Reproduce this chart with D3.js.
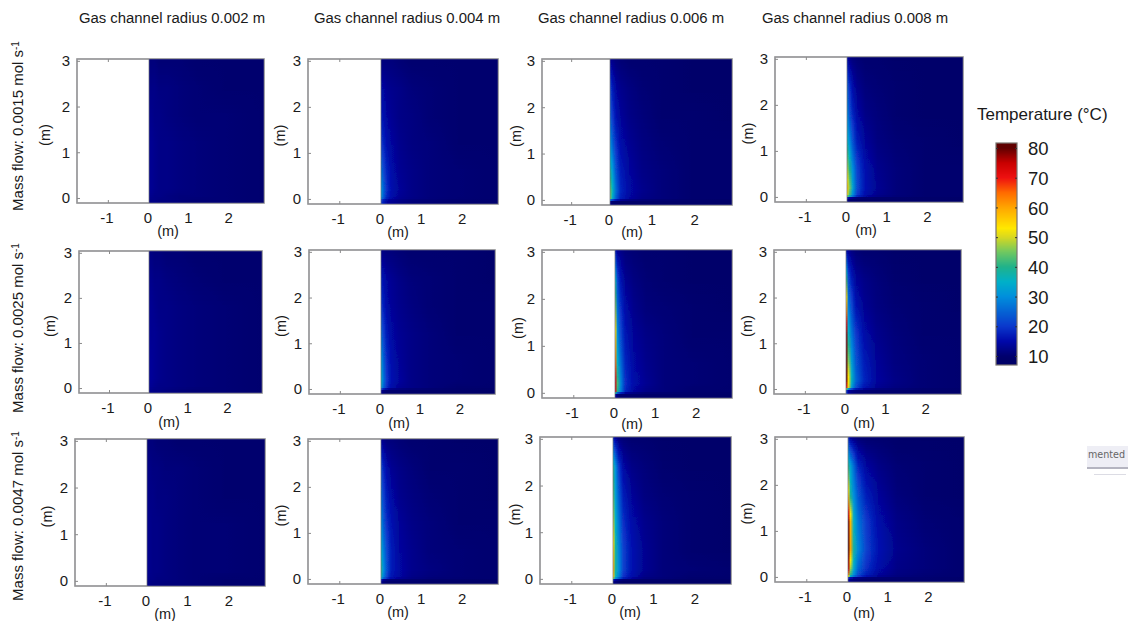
<!DOCTYPE html>
<html><head><meta charset="utf-8">
<script src="https://cdn.jsdelivr.net/npm/d3@7"></script>
<style>
html,body{margin:0;padding:0;background:#fff;}
svg{display:block;}
text{font-family:"Liberation Sans",Arial,sans-serif;fill:#1a1a1a;}
.tk text{font-size:15px;}
.tk line{stroke:#8a8a8a;}
</style></head><body>
<svg id="c" width="1128" height="621"></svg>
<script>
// ---- data ----
const channelRadii = ["0.002","0.004","0.006","0.008"];
const massFlows = ["0.0015","0.0025","0.0047"];
const xTicks = [-1,0,1,2];
const yTicks = [0,1,2,3];
const legendTicks = [10,20,30,40,50,60,70,80];
// radial sample positions (m) and heights (m) of the temperature readings
const radialPositions = [0.01,0.06,0.14,0.25,0.45,0.75,1.2,1.9,2.85];
const heights = [3.04,2.4,1.8,1.2,0.6,0.2,0.03,-0.03];

const T_0015_002 = [
[11,11,11,10.5,10.5,10.5,10,10,10],
[12,12,12,11.5,11.5,11,10.5,10,10],
[12.5,12.5,12,12,11.5,11,10.5,10.5,10],
[13,13,12.5,12,12,11.5,11,10.5,10],
[13,13,12.5,12,12,11.5,11,10.5,10],
[13,13,12.5,12,12,11.5,11,10.5,10],
[12.5,12.5,12,12,11.5,11,11,10.5,10],
[12,12,12,11.5,11.5,11,10.5,10.5,10]];
const T_0015_004 = [
[11,11,11,11,10.5,10,10,10,10],
[15,14,13,12.5,12,11,10.5,10,10],
[17,15.5,14,13,12,11.5,10.5,10,10],
[20,18,15.5,14,12.5,11.5,11,10,10],
[26,22,18,15,13,12,11,10.5,10],
[30,25,19,15.5,13.5,12,11,10.5,10],
[30,24,18,15,13,12,11,10.5,10],
[20,17,14,13,12,11,10.5,10,10]];
const T_0015_006 = [
[13,12,11,10.5,10,10,10,9.5,9.5],
[21,17,14,12.5,11.5,10.5,10,9.5,9.5],
[24,20,16,13.5,12,11,10,10,9.5],
[30,25,19,15,13,11.5,10.5,10,10],
[38,32,23,17,14,12,11,10,10],
[44,36,26,18,14.5,12.5,11,10,10],
[45,34,24,17,14,12,11,10,10],
[12,10,10,9.5,9.5,9.5,9.5,9.5,9]];
const T_0015_008 = [
[14,12,11,10.5,10,10,9.5,9.5,9.5],
[24,19,15,12.5,11,10.5,10,9.5,9.5],
[29,23,18,14.5,12,11,10,9.5,9.5],
[36,30,23,17,13.5,11.5,10.5,10,9.5],
[48,40,30,21,15.5,12.5,11,10,10],
[56,46,33,22,16,13,11,10,10],
[52,42,30,20,15,12.5,11,10,10],
[12,10,10,9.5,9.5,9.5,9.5,9.5,9]];
const T_0025_002 = [
[11.5,11.5,11,11,10.5,10.5,10,10,10],
[12.5,12.5,12,12,11.5,11,10.5,10,10],
[13,13,12.5,12,12,11.5,11,10.5,10],
[13.5,13,13,12.5,12,11.5,11,10.5,10],
[13.5,13.5,13,12.5,12,11.5,11,10.5,10],
[13.5,13.5,13,12.5,12,11.5,11,10.5,10],
[13,13,12.5,12,12,11.5,11,10.5,10],
[12.5,12.5,12,12,11.5,11,10.5,10.5,10]];
const T_0025_004 = [
[12,11.5,11,11,10.5,10,10,10,9.5],
[17,15.5,14,13,12,11,10.5,10,9.5],
[20,17.5,15,13.5,12.5,11.5,10.5,10,10],
[25,21,17,14.5,13,12,11,10,10],
[31,25,19,15.5,13.5,12,11,10.5,10],
[34,27,20,16,14,12,11,10.5,10],
[32,25,19,15,13,12,11,10,10],
[13,11,10,10,10,9.5,9.5,9.5,9]];
const T_0025_006 = [
[16,13,12,11,10.5,10,10,9.5,9.5],
[35,22,16,13,11.5,10.5,10,9.5,9.5],
[45,26,19,15,12.5,11,10.5,10,9.5],
[55,30,22,16.5,13.5,12,11,10,10],
[65,36,26,18,14.5,12.5,11,10.5,10],
[72,42,29,19,15,13,11,10.5,10],
[72,40,28,18,14,12,11,10,10],
[14,11,10,10,10,9.5,9.5,9.5,9]];
const T_0025_008 = [
[14,13,11.5,10.5,10,10,9.5,9.5,9.5],
[40,22,17,13.5,12,11,10,9.5,9.5],
[60,28,22,16,13,11.5,10.5,10,9.5],
[78,36,27,20,15,12.5,11,10,10],
[80,46,32,23,17,13.5,11.5,10.5,10],
[80,54,36,25,18,14,12,10.5,10],
[70,50,32,22,16,13,11.5,10.5,10],
[20,14,12,11,10.5,10,10,9.5,9.5]];
const T_0047_002 = [
[11,11,11,10.5,10.5,10,10,10,10],
[12,12,11.5,11.5,11,11,10.5,10,10],
[12.5,12,12,11.5,11.5,11,10.5,10,10],
[12.5,12.5,12,12,11.5,11,10.5,10.5,10],
[13,12.5,12,12,11.5,11,10.5,10.5,10],
[13,12.5,12,12,11.5,11,10.5,10.5,10],
[12.5,12,12,11.5,11.5,11,10.5,10,10],
[12,12,11.5,11.5,11,11,10.5,10,10]];
const T_0047_004 = [
[13,12,11,11,10.5,10,10,9.5,9.5],
[22,18,15,13,12,11,10,10,9.5],
[25,21,17,14.5,12.5,11.5,10.5,10,9.5],
[29,24,19,16,13.5,12,11,10,10],
[34,28,22,17,14,12.5,11,10.5,10],
[38,30,23,17,14.5,12.5,11.5,10.5,10],
[36,28,21,16,14,12,11,10.5,10],
[13,11,10,10,10,10,9.5,9.5,9.5]];
const T_0047_006 = [
[16,13,11,10.5,10,10,9.5,9.5,9.5],
[38,30,20,14.5,12,11,10,9.5,9.5],
[42,32,24,17,13.5,11.5,10.5,10,9.5],
[48,35,27,19,15,12.5,11,10,9.5],
[55,38,29,21,16,13,11,10,9.5],
[58,38,30,21,16,13,11,10.5,10],
[55,36,28,19,15,12,11,10,10],
[12,11,10,9.5,9.5,9.5,9.5,9,9]];
const T_0047_008 = [
[18,13,11.5,10.5,10,10,9.5,9.5,9.5],
[40,33,26,18,14,12,10.5,10,9.5],
[55,38,30,23,17,13.5,11,10,9.5],
[78,58,35,27,20,15,12,10.5,10],
[80,60,38,29,21,16,12.5,11,10],
[75,48,34,25,19,15,12,11,10],
[60,40,30,22,17,13.5,11.5,10.5,10],
[14,12,11,10.5,10,10,10,10,9.5]];
const fields = [
 [T_0015_002,T_0015_004,T_0015_006,T_0015_008],
 [T_0025_002,T_0025_004,T_0025_006,T_0025_008],
 [T_0047_002,T_0047_004,T_0047_006,T_0047_008]];

// ---- layout: frame of each panel as left, wall, right, top, bottom ----
const frames = [
 [[77,149,264,59,203],[308,381,498,59,204],[542,610,732,59,205],[775,847,963,57,202]],
 [[79,149,262,251,393],[309,381,495,250,394],[542,615,732,250,398],[774,846,961,250,394]],
 [[75,147,265,439,586],[308,381,498,439,584],[540,613,731,437,584],[775,848,964,437,582]]];
const titleCenters = [172,407,631,855];
const rowCenters = [126,328,516];
const yLabelX = [[45,280,516,748],[50,281,518,747],[47,281,515,747]];
const xLabelX = [[168,398,632,866],[169,399,632,864],[165,398,630,864]];
const xLabelY = [[236,237,237,235],[427,428,429,428],[619,617,617,618]];

const tempColor = d3.scaleLinear()
 .domain([9,10,15,20,30,35,40,45,50,53,60,65,70,75,80])
 .range(["#000068","#00006e","#0008aa","#0a38cc","#008fdc","#00b0c8","#20b28a","#70c860","#d8d820","#ffe800","#ffa500","#ff6a00","#ee1010","#c80000","#600000"])
 .clamp(true);

const svg = d3.select("#c");
const defs = svg.append("defs");
defs.append("filter").attr("id","soft").attr("x","-2%").attr("y","-2%").attr("width","104%").attr("height","104%")
 .append("feGaussianBlur").attr("stdDeviation",0.5);
let gid = 0;

massFlows.forEach((flow,ri)=>{
 channelRadii.forEach((rad,ci)=>{
  const [L,W,R,T,B] = frames[ri][ci];
  const x = d3.scaleLinear().domain([-1.75,0,2.85]).range([L,W,R]);
  const y = d3.scaleLinear().domain([-0.11,3.04]).range([B,T]);
  const g = svg.append("g");
  g.append("rect").attr("x",L).attr("y",T).attr("width",R-L).attr("height",B-T)
   .attr("fill","#fff").attr("stroke","#9a9a9a").attr("stroke-width",1.6);
  const ax = g.append("g").attr("class","tk").attr("transform",`translate(0,${B})`)
   .call(d3.axisBottom(x).tickValues(xTicks).tickSize(-3).tickPadding(9).tickFormat(d=>String(d)));
  ax.select(".domain").remove();
  ax.selectAll("text").attr("dx",-1.5);
  const axT = g.append("g").attr("class","tk").attr("transform",`translate(0,${T})`)
   .call(d3.axisTop(x).tickValues(xTicks).tickSize(-3).tickFormat(""));
  axT.select(".domain").remove();
  const ay = g.append("g").attr("class","tk").attr("transform",`translate(${L},0)`)
   .call(d3.axisLeft(y).tickValues(yTicks).tickSize(-3).tickPadding(7).tickFormat(d=>String(d)));
  ay.select(".domain").remove();

  // heat field: horizontal gradient strips, values from the readings
  const field = fields[ri][ci];
  const strips = d3.range(T,B,2);
  const hm = g.append("g").attr("filter","url(#soft)");
  strips.forEach(py=>{
   const h = y.invert(py+1);
   let k = d3.bisectLeft(heights.map(v=>-v),-h);
   k = Math.max(1,Math.min(heights.length-1,k));
   const t = Math.max(0,Math.min(1,(heights[k-1]-h)/(heights[k-1]-heights[k])));
   const temps = radialPositions.map((_,j)=>field[k-1][j]*(1-t)+field[k][j]*t);
   const id = "g"+(gid++);
   const lg = defs.append("linearGradient").attr("id",id)
     .attr("gradientUnits","userSpaceOnUse")
     .attr("x1",x(0)).attr("x2",x(2.85)).attr("y1",0).attr("y2",0);
   lg.append("stop").attr("offset",0).attr("stop-color",tempColor(temps[0]));
   radialPositions.forEach((r,j)=>{
     lg.append("stop").attr("offset",r/2.85).attr("stop-color",tempColor(temps[j]));
   });
   hm.append("rect").attr("x",x(0)).attr("y",py).attr("width",x(2.85)-x(0))
     .attr("height",Math.min(2,B-py)).attr("fill",`url(#${id})`)
     .attr("shape-rendering","crispEdges");
  });
  g.append("line").attr("x1",W).attr("x2",W).attr("y1",T).attr("y2",B)
   .attr("stroke","#6e7078").attr("stroke-width",1).attr("stroke-opacity",0.7);
  g.append("rect").attr("x",L).attr("y",T).attr("width",R-L).attr("height",B-T)
   .attr("fill","none").attr("stroke","#8f8f98").attr("stroke-width",1).attr("stroke-opacity",0.55);

  g.append("text").attr("x",xLabelX[ri][ci]).attr("y",xLabelY[ri][ci])
   .attr("text-anchor","middle").attr("font-size",14.5).text("(m)");
  g.append("text").attr("transform",`translate(${yLabelX[ri][ci]+5},${(T+B)/2+4}) rotate(-90)`)
   .attr("text-anchor","middle").attr("font-size",14.5).text("(m)");
 });
});

// column titles
svg.selectAll(".title").data(channelRadii).enter().append("text").attr("class","title")
 .attr("x",(d,i)=>titleCenters[i]).attr("y",23).attr("text-anchor","middle")
 .attr("font-size",14.9).text(d=>`Gas channel radius ${d} m`);

// row titles
massFlows.forEach((f,i)=>{
 const t = svg.append("text")
  .attr("transform",`translate(23,${rowCenters[i]}) rotate(-90)`)
  .attr("text-anchor","middle").attr("font-size",15);
 t.append("tspan").text(`Mass flow: ${f} mol s`);
 t.append("tspan").attr("dy",-4).attr("font-size",10).text("-1");
});

// colour legend
const legY = d3.scaleLinear().domain([10,80]).range([356,148]);
const barTop = 143, barBottom = 365, barL = 996, barR = 1017;
svg.append("text").attr("x",977).attr("y",120).attr("font-size",17).text("Temperature (°C)");
const legendSamples = d3.range(barTop,barBottom);
svg.append("g").selectAll("rect").data(legendSamples).enter().append("rect")
 .attr("x",barL).attr("y",d=>d).attr("width",barR-barL).attr("height",1)
 .attr("shape-rendering","crispEdges")
 .attr("fill",d=>tempColor(legY.invert(d+0.5)));
svg.append("rect").attr("x",barL).attr("y",barTop).attr("width",barR-barL).attr("height",barBottom-barTop)
 .attr("fill","none").attr("stroke","#7a7470").attr("stroke-width",1.2);
const legAxis = svg.append("g").attr("class","leg").attr("transform",`translate(${barR},0)`)
 .call(d3.axisRight(legY).tickValues(legendTicks).tickSize(-2).tickPadding(11).tickFormat(d=>String(d)));
legAxis.select(".domain").remove();
legAxis.selectAll("line").attr("stroke","#333");
legAxis.selectAll("text").attr("font-size",18.5).attr("font-family","Liberation Sans, Arial, sans-serif").attr("fill","#1a1a1a").attr("dy","0.36em");
const legAxisL = svg.append("g").attr("transform",`translate(${barL},0)`)
 .call(d3.axisLeft(legY).tickValues(legendTicks).tickSize(-2).tickFormat(""));
legAxisL.select(".domain").remove();
legAxisL.selectAll("line").attr("stroke","#333");

// leftover fragment at the right edge of the picture
svg.append("rect").attr("x",1087).attr("y",446).attr("width",41).attr("height",21).attr("fill","#eeeef5");
svg.append("text").attr("x",1088).attr("y",458).style("font-family","DejaVu Sans").style("font-size","9.6px").style("fill","#666").text("mented");
svg.append("rect").attr("x",1087).attr("y",467).attr("width",41).attr("height",2).attr("fill","#b4b4c0");
svg.append("rect").attr("x",1094).attr("y",474).attr("width",32).attr("height",1).attr("fill","#dcdce4");
</script>
</body></html>
